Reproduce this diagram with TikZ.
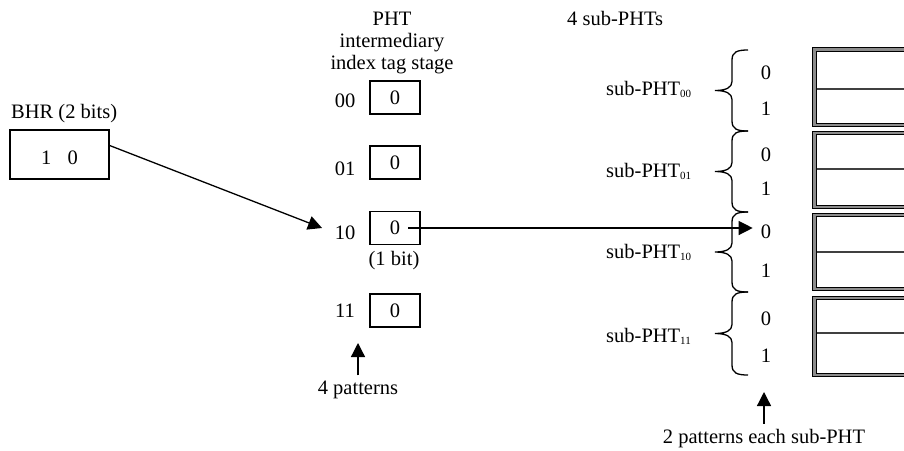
\documentclass[tikz,border=0pt]{standalone}
\usepackage{fontspec}
\setmainfont{Liberation Serif}
\usetikzlibrary{arrows.meta}
\newcommand\subidx[1]{\raisebox{-2.5pt}{\fontsize{11}{12}\selectfont #1}}
\begin{document}
\begin{tikzpicture}[x=1pt,y=-1pt,
  txt/.style={font=\fontsize{20.5}{23}\selectfont, inner sep=1pt},
  box/.style={txt, draw, line width=1.3pt, inner sep=0pt},
  arr/.style={-{Triangle[length=14pt,width=14pt]}, line width=1.3pt},
  bracestyle/.style={line width=1.3pt},
  dbl/.style={draw=black, line width=1.1pt, double=black!45, double distance=2.2pt},
  divider/.style={draw=black!75, line width=1.3pt}]
\useasboundingbox (0,0) rectangle (904,450);

% BHR
\node[txt, anchor=base west] (bhrlbl) at (10,118) {BHR (2 bits)};
\node[box, minimum width=99pt, minimum height=49pt, text height=20pt, text depth=0pt] (bhr) at (59.5,154.5) {1\hspace{0.8em}0};

% PHT title
\node[txt, anchor=base] (phtA) at (392,25) {PHT};
\node[txt, anchor=base] (phtB) at (392,47) {intermediary};
\node[txt, anchor=base] (phtC) at (392,69) {index tag stage};

% PHT boxes
\node[box, minimum width=50pt, minimum height=33pt] (b00) at (395,97.5) {0};
\node[box, minimum width=50pt, minimum height=33pt] (b01) at (395,162.5) {0};
\node[box, minimum width=50pt, minimum height=33pt] (b10) at (395,228) {0};
\node[box, minimum width=50pt, minimum height=33pt] (b11) at (395,310.5) {0};
\node[txt] (l00) at (345,100.5) {00};
\node[txt] (l01) at (345,168.5) {01};
\node[txt] (l10) at (345,233) {10};
\node[txt] (l11) at (345,310.5) {11};
\node[txt, anchor=base] (bit) at (394,265) {(1 bit)};
\node[txt, anchor=base] (pat4) at (358,394) {4 patterns};
\coordinate (tip4) at (358,343);
\draw[arr] ([yshift=4pt]pat4.north) -- (tip4);

% arrow BHR -> 10
\draw[arr] ([yshift=9pt]bhr.east) -- ([xshift=-11.5pt,yshift=5pt]l10.west);

% sub-PHTs
\node[txt, anchor=base west] (subtitle) at (566,25) {4 sub-PHTs};
\node[txt, anchor=base west] (s00) at (605,95) {sub-PHT\subidx{00}};
\node[txt, anchor=base west] (s01) at (605,177) {sub-PHT\subidx{01}};
\node[txt, anchor=base west] (s10) at (605,258) {sub-PHT\subidx{10}};
\node[txt, anchor=base west] (s11) at (605,342) {sub-PHT\subidx{11}};

% braces
\foreach \ta/\tb in {50/131,131/212,212/292,292/375} {
  \pgfmathsetmacro\tm{(\ta+\tb)/2}
  \draw[bracestyle] (748,\ta) .. controls (737,\ta) and (732,\ta+2) .. (732,\ta+10)
    -- (732,\tm-9) .. controls (732,\tm-3) and (726,\tm) .. (715,\tm)
    .. controls (726,\tm) and (732,\tm+3) .. (732,\tm+9)
    -- (732,\tb-10) .. controls (732,\tb-2) and (737,\tb) .. (748,\tb);
}

% pattern bits
\node[txt] (n00) at (766,72.5) {0};
\node[txt] (n01) at (766,108.5) {1};
\node[txt] (n10) at (766,154.5) {0};
\node[txt] (n11) at (766,188.5) {1};
\node[txt] (n20) at (766,232) {0};
\node[txt] (n21) at (766,270.5) {1};
\node[txt] (n30) at (766,319) {0};
\node[txt] (n31) at (766,355.5) {1};

% long arrow
\coordinate (src) at ([xshift=13pt]b10.center);
\draw[arr] (src) -- ([xshift=-7pt,yshift=4pt]n20.west);

% bottom note
\node[txt, anchor=base] (pat2) at (764,443) {2 patterns each sub-PHT};
\coordinate (tip2) at (764,392);
\draw[arr] ([yshift=4pt]pat2.north) -- (tip2);

% sub-PHT tables
\foreach \ta/\tb/\td in {49.5/125/89,133/207/169,215/289/252,298/375/333} {
  \draw[dbl] (904,\ta) -- (814.5,\ta) -- (814.5,\tb) -- (904,\tb);
  \draw[divider] (816.5,\td) -- (904,\td);
}
\end{tikzpicture}
\end{document}
